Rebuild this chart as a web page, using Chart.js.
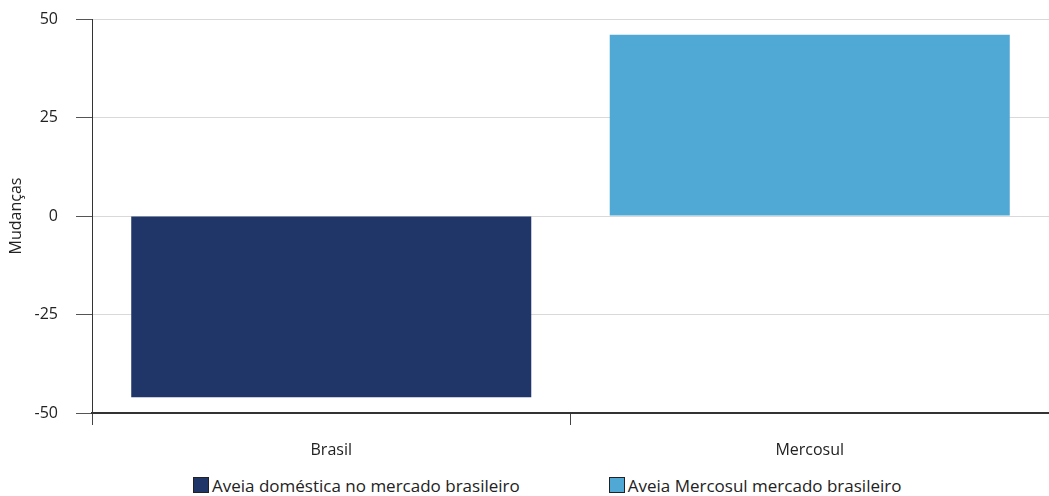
<!DOCTYPE html>
<html>
<head>
<meta charset="utf-8">
<script src="https://cdn.jsdelivr.net/npm/chart.js@4"></script>
<style>
  html, body { margin: 0; padding: 0; background: #fff; overflow: hidden; }
  #wrap { position: relative; width: 1049px; height: 470px; }
  #legend { display: flex; gap: 89px; margin-left: 193px; margin-top: 3px; height: 24px; align-items: center;
            font-family: "Open Sans", sans-serif; font-size: 17px; color: #222; white-space: nowrap; }
  .item { display: flex; align-items: center; }
  .box { width: 14px; height: 14px; border: 1px solid #222; margin-right: 3px; }
</style>
</head>
<body>
<div id="wrap"><canvas id="grafico"></canvas></div>
<div id="legend"></div>
<script>
// valores
const categorias = ['Brasil', 'Mercosul'];
const series = ['Aveia doméstica no mercado brasileiro', 'Aveia Mercosul mercado brasileiro'];
const valoresBrasil = [-46, null];
const valoresMercosul = [null, 46];
const ticksY = [-50, -25, 0, 25, 50];
const cores = ['#203668', '#50a8d5'];

const fonte = { family: '"Open Sans", sans-serif', size: 16 };

const chart = new Chart(document.getElementById('grafico'), {
    type: 'bar',
    data: {
        labels: categorias,
        datasets: [
            { label: series[0], data: valoresBrasil, backgroundColor: cores[0] },
            { label: series[1], data: valoresMercosul, backgroundColor: cores[1] }
        ]
    },
    options: {
        responsive: true, maintainAspectRatio: false, animation: false,
        layout: { padding: { top: 19, right: 0, left: 0, bottom: 0 } },
        datasets: { bar: { skipNull: true, categoryPercentage: 1, barPercentage: 0.836 } },
        plugins: { legend: { display: false }, tooltip: { enabled: false } },
        scales: {
            x: {
                offset: true,
                grid: { offset: true, drawOnChartArea: false, tickLength: 12, tickColor: '#444' },
                border: { color: '#333', width: 2 },
                ticks: { color: '#222', font: fonte, padding: 16 },
                afterFit: (s) => { s.height = 57; }
            },
            y: {
                min: ticksY[0], max: ticksY[ticksY.length - 1],
                afterBuildTicks: (s) => { s.ticks = ticksY.map(v => ({ value: v })); },
                grid: { color: '#d9d9d9', tickColor: '#555', tickLength: 16 },
                border: { color: '#333', width: 1 },
                ticks: { color: '#222', font: fonte, padding: 18 },
                title: { display: true, text: 'Mudanças', color: '#222', font: { family: fonte.family, size: 16 }, padding: { top: 7, bottom: 0 } },
                // a margem do padding dos ticks empurrava a área pra baixo
                afterFit: (s) => { s.width = 92; s.paddingTop = 0; s.paddingBottom = 0; }
            }
        }
    }
});

// legenda em html
const leg = document.getElementById('legend');
chart.data.datasets.forEach(ds => {
    const it = document.createElement('div');
    it.className = 'item';
    const b = document.createElement('span');
    b.className = 'box';
    b.style.background = ds.backgroundColor;
    const t = document.createElement('span');
    t.innerText = ds.label;
    it.appendChild(b);
    it.appendChild(t);
    leg.appendChild(it);
});
</script>
</body>
</html>
